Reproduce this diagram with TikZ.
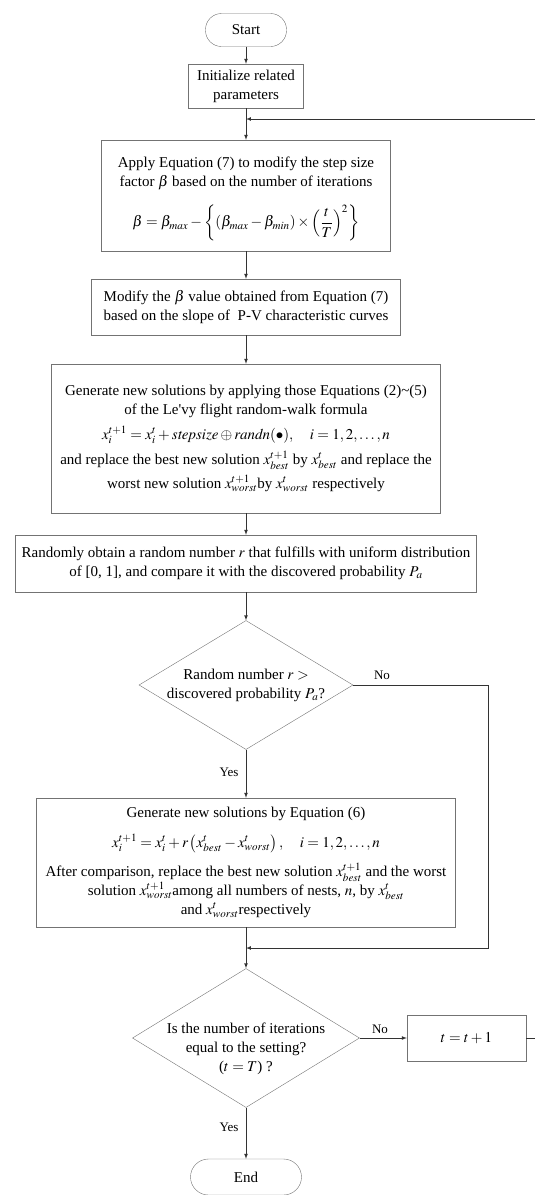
\documentclass[tikz,border=0pt]{standalone}
\usepackage{amsmath}
\usepackage{mathptmx}
\usepackage{fontspec}
\setmainfont{Liberation Serif}
\usetikzlibrary{shapes.geometric}

\begin{document}
\begin{tikzpicture}[> = latex, x = 1pt, y = -1pt, font = \fontsize{15}{19}\selectfont]
        \tikzstyle{terminal}=[rectangle, draw=gray!90!black, rounded corners=16pt, minimum height=33, inner sep=0pt]
        \tikzstyle{process}=[rectangle, draw=gray!90!black, align=center, inner sep=0pt]
        \tikzstyle{decision}=[diamond, draw=gray!90!black, inner sep=0pt]
        \tikzstyle{flow}=[draw=black!80, line width=0.7pt]
        \tikzstyle{tag}=[font=\fontsize{13}{15}\selectfont]

        \useasboundingbox (0,0) rectangle (535,1195);

            % Blocos
            \node[terminal, minimum width=81] (start) at (246,30) {Start};
            \node[process, minimum width=115, minimum height=44] (init) at (246,86) {Initialize related\\parameters};
            \node[process, minimum width=289, minimum height=111] (beta) at (246,195.5) {\rule{0pt}{18pt}Apply Equation (7) to modify the step size\\factor $\beta$ based on the number of iterations\\[14pt]$\displaystyle \beta=\beta_{max}-\left\{(\beta_{max}-\beta_{min})\times\left(\frac{t}{T}\right)^{2}\right\}$};
            \node[process, minimum width=309, minimum height=56] (slope) at (246,307) {Modify the $\beta$ value obtained from Equation (7)\\based on the slope of~ P-V characteristic curves};
            \node[process, minimum width=389, minimum height=149] (levy) at (246,438.5) {Generate new solutions by applying those Equations (2)\textasciitilde(5)\\of the Le\textquotesingle vy flight random-walk formula\\[6pt]$x_i^{t+1}=x_i^{t}+\mathit{stepsize}\oplus\mathit{randn}(\bullet),\quad i=1,2,\ldots,n$\\[6pt]and replace the best new solution $x_{best}^{t+1}$ by $x_{best}^{t}$ and replace the\\[5pt]worst new solution $x_{worst}^{t+1}$by $x_{worst}^{t}$ respectively};
            \node[process, minimum width=461, minimum height=57] (rand) at (246,563.5) {Randomly obtain a random number $r$ that fulfills with uniform distribution\\of [0, 1], and compare it with the discovered probability $P_a$};
            \node[decision, minimum width=214, minimum height=129, label={[align=center]center:Random number $r>$\\discovered probability $P_a$?}] (ask) at (246,685) {};
            \node[process, minimum width=419, minimum height=129] (nests) at (246,862.5) {Generate new solutions by Equation (6)\\[11pt]$x_i^{t+1}=x_i^{t}+r\left(x_{best}^{t}-x_{worst}^{t}\right),\quad i=1,2,\ldots,n$\\[10pt]After comparison, replace the best new solution $x_{best}^{t+1}$ and the worst\\solution $x_{worst}^{t+1}$among all numbers of nests, $n$, by $x_{best}^{t}$\\and $x_{worst}^{t}$respectively};
            \node[decision, minimum width=227, minimum height=139, label={[align=center, yshift=-11pt]center:Is the number of iterations\\equal to the setting?\\($t=T$) ?}] (stop) at (246,1038) {};
            \node[process, minimum width=119, minimum height=46] (tnext) at (466.5,1038) {$t=t+1$};
            \node[terminal, minimum width=111, minimum height=36, rounded corners=18pt] (end) at (246,1177) {End};

            \coordinate (loopR) at (538,119);
            \coordinate (loopA) at (246,119);
            \coordinate (noR) at (488,948);
            \coordinate (noA) at (246,948);

            % Ligações
            \draw[flow,->] (start) -- (init);
            \draw[flow,->] (init) -- (beta);
            \draw[flow,->] (beta) -- (slope);
            \draw[flow,->] (slope) -- (levy);
            \draw[flow,->] (levy) -- (rand);
            \draw[flow,->] (rand) -- (ask);
            \draw[flow,->] (ask) -- (nests);
            \draw[flow,->] (ask.east) -| (noR) -- (noA);
            \draw[flow,->] (nests) -- (stop);
            \draw[flow,->] (stop) -- (tnext);
            \draw[flow,->] (tnext.east) -| (loopR) -- (loopA);
            \draw[flow,->] (stop) -- (end);

            \node[tag] (no1) at (382,675) {No};
            \node[tag] (yes1) at (229,772) {Yes};
            \node[tag] (no2) at (380,1029) {No};
            \node[tag] (yes2) at (229,1127) {Yes};

\end{tikzpicture}
\end{document}
